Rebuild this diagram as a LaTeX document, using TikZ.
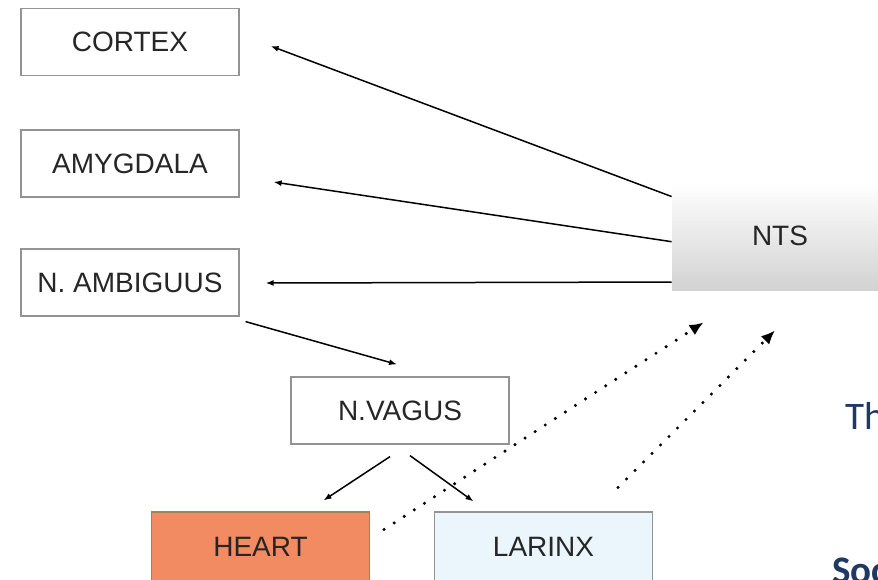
\documentclass[tikz,border=0pt]{standalone}
\usepackage{fontspec}
\setmainfont{Liberation Sans}
\newfontfamily\slidefont{Carlito}
\usetikzlibrary{arrows.meta,positioning,calc}
\definecolor{heartfill}{RGB}{242,138,98}
\definecolor{larinxfill}{RGB}{234,245,252}
\definecolor{slideblue}{RGB}{31,56,100}

\begin{document}
\begin{tikzpicture}[x=0.5pt,y=-0.5pt,
    box/.style={draw=gray!85,line width=0.6pt,minimum width=109pt,minimum height=33.5pt,
      inner sep=0pt,font=\fontsize{14}{16}\selectfont,text=black!85},
    link/.style={-{Latex[length=4pt,width=3pt]},line width=0.75pt},
    feedback/.style={-{Latex[length=7pt,width=6pt]},line width=1.7pt,
      dash pattern=on 0pt off 6pt,line cap=round}]
  \clip (0,0) rectangle (878,579);
  \fill[white] (0,0) rectangle (878,579);
  % left column
  \node[box] (cortex) at (130,42) {CORTEX};
  \node[box] (amygdala) at (130,163.5) {AMYGDALA};
  \node[box] (ambiguus) at (130,282.5) {N. AMBIGUUS};
  \node[box] (vagus) at (400,410.5) {N.VAGUS};
  \node[box,fill=heartfill,draw=brown!60!gray,minimum height=34.5pt] (heart) at (260.5,546.5) {HEART};
  \node[box,fill=larinxfill,minimum height=34.5pt] (larinx) at (543.5,546.5) {LARINX};
  \node[top color=white,bottom color=gray!35,minimum width=108pt,minimum height=54pt,
    font=\fontsize{14}{16}\selectfont,text=black!85] (nts) at (780,236) {NTS};
  % slide text
  \node[anchor=base west,inner sep=0pt,text=slideblue,font=\slidefont\fontsize{19.5}{22}\selectfont] (thtext) at (845,429) {Th};
  \node[anchor=base west,inner sep=0pt,text=slideblue,font=\slidefont\bfseries\fontsize{19.5}{22}\selectfont] (soctext) at (832,583) {Soc};
  % connectors
  \draw[link] (nts.160) -- ($(cortex.east)+(31,4)$);
  \draw[link] (nts.183) -- ($(amygdala.east)+(34,18.5)$);
  \draw[link] (nts.203.5) -- ($(ambiguus.east)+(26,0.5)$);
  \draw[link] ($(ambiguus.south east)+(6,5)$) -- ($(vagus.north)+(-3,-12)$);
  \draw[link] ($(vagus.south)+(-10,12)$) -- ($(heart.north)+(63,-11)$);
  \draw[link] ($(vagus.south)+(10,11)$) -- ($(larinx.north)+(-70,-10)$);
  \draw[feedback] ($(heart.north east)+(14,18)$) -- ($(nts.south west)+(32,32)$);
  \draw[feedback] ($(larinx.north east)+(-35,-24)$) -- ($(nts.south)+(-5,40)$);
\end{tikzpicture}
\end{document}
